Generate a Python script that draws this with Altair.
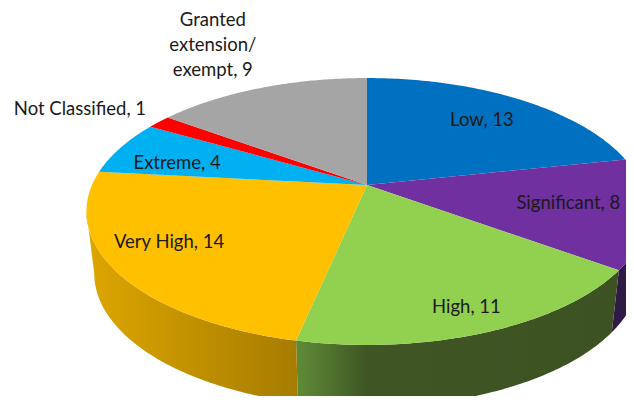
import math
import altair as alt
import pandas as pd

CATEGORIES = ["Low", "Significant", "High", "Very High", "Extreme", "Not Classified", "Granted extension/ exempt"]
VALUES = [13, 8, 11, 14, 4, 1, 9]
TOP_COLORS = ["#0070C0", "#7030A0", "#92D050", "#FFC000", "#00B0F0", "#FF0000", "#A5A5A5"]
LABEL_TEXT = ["Low, 13", "Significant, 8", "High, 11", "Very High, 14", "Extreme, 4", "Not Classified, 1",
              "Granted\nextension/\nexempt, 9"]
LABEL_RADIUS = [0.74, 0.725, 0.85, 0.775, 0.74, 1.367, 1.90]
LABEL_NUDGE_DEG = [0, -1.6, 0, 4.7, -3.4, -3.1, 3.6]
WALL_STOPS = {
    "Significant": [(0, "#2E1A45"), (1, "#2E1A45")],
    "High": [(0, "#5F8C37"), (0.22, "#3F5624"), (1, "#3D5222")],
    "Very High": [(0, "#DDA600"), (1, "#A67C00")],
}

# perspective camera for the tilted disc
CX, CY, A, B, K = 367, 185, 275, 128.2, -0.1985
DEPTH, SHRINK = 62, 0.972


def project(deg, r=1.0):
    t = math.radians(deg)
    u, v = r * math.sin(t), -r * math.cos(t)
    d = 1 + K * v
    return CX + A * u / d, CY + B * v / d


def arc(a0, a1, n=90):
    return [a0 + (a1 - a0) * i / n for i in range(n + 1)]


X = alt.X("x:Q", axis=None, scale=alt.Scale(domain=[8, 626], nice=False, zero=False))
Y = alt.Y("y:Q", axis=None, scale=alt.Scale(domain=[396, 8], nice=False, zero=False))


def polygon(points, fill):
    df = pd.DataFrame(points, columns=["x", "y"])
    df["i"] = range(len(df))
    return alt.Chart(df).mark_line(fill=fill, stroke=None, interpolate="linear", clip=True).encode(
        x=X, y=Y, order="i:Q")


total = sum(VALUES)
edges = [0]
for v in VALUES:
    edges.append(edges[-1] + v / total * 360)

# the disc's left silhouette: the wall stops where the rim turns away from the viewer
left_tangent = min(arc(180, 360, 720), key=lambda a: project(a)[0])

layers = []
for i, name in enumerate(CATEGORIES):
    if name in WALL_STOPS:
        end = min(edges[i + 1], left_tangent)
        top = [project(a) for a in arc(edges[i], end)]
        bottom = [(CX + (x - CX) * SHRINK, y + DEPTH) for x, y in top]
        stops = [alt.GradientStop(offset=o, color=c) for o, c in WALL_STOPS[name]]
        grad = alt.LinearGradient(gradient="linear", stops=stops, x1=0, x2=1, y1=0, y2=0)
        layers.append(polygon(top + bottom[::-1], grad))

for i, color in enumerate(TOP_COLORS):
    pts = [(CX, CY)] + [project(a) for a in arc(edges[i], edges[i + 1])]
    layers.append(polygon(pts, color))

rows = []
for i, txt in enumerate(LABEL_TEXT):
    mid = (edges[i] + edges[i + 1]) / 2 + LABEL_NUDGE_DEG[i]
    x, y = project(mid, LABEL_RADIUS[i])
    rows.append({"x": x, "y": y, "label": txt})
labels = alt.Chart(pd.DataFrame(rows)).mark_text(
    font="Lato", fontSize=18.5, color="#1a1a1a", lineBreak="\n", lineHeight=25, align="center", baseline="middle", dy=1
).encode(x=X, y=Y, text="label:N")
layers.append(labels)

chart = alt.layer(*layers).properties(
    width=618, height=388, padding=0, autosize=alt.AutoSizeParams(type="none")
).configure_view(stroke=None)

chart.save("out.html", embed_options={"renderer": "svg", "actions": False})
